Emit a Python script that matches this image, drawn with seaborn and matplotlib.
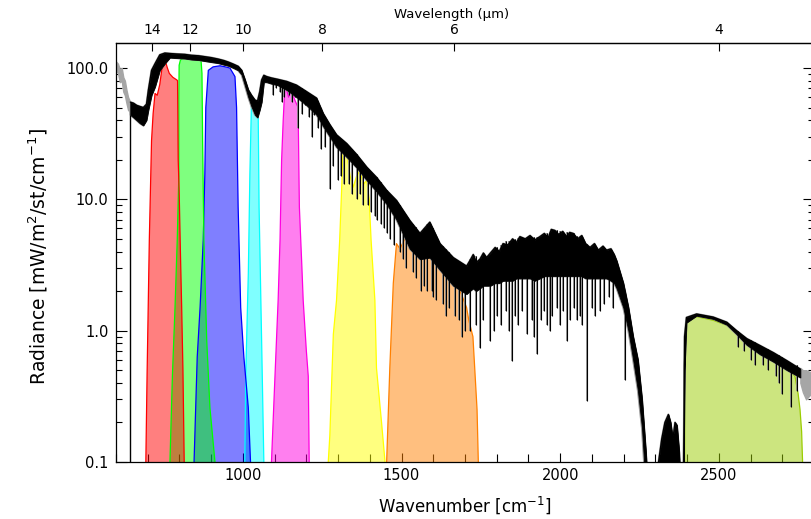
import matplotlib
matplotlib.use("Agg")
import matplotlib.pyplot as plt
import numpy as np
import seaborn as sns
from matplotlib.ticker import FixedLocator, MultipleLocator, NullLocator, LogLocator, NullFormatter

# black spectrum: wavenumber [cm-1], upper / lower envelope of the line forest
SPEC_WN = [645, 655, 665, 675, 686, 696, 702, 712, 723, 738,
           754, 770, 790, 817, 838, 860, 880, 900, 922, 940,
           954, 970, 985, 996, 1006, 1017, 1027, 1038, 1046, 1053,
           1059, 1066, 1075, 1090, 1110, 1138, 1169, 1201, 1232, 1253,
           1274, 1295, 1327, 1358, 1390, 1421, 1453, 1484, 1526, 1558,
           1589, 1621, 1663, 1705, 1715, 1726, 1735, 1747, 1758, 1768,
           1780, 1795, 1808, 1820, 1835, 1850, 1862, 1873, 1890, 1905,
           1920, 1936, 1950, 1962, 1972, 1983, 1995, 2008, 2020, 2030,
           2041, 2055, 2068, 2080, 2094, 2108, 2120, 2135, 2146, 2160,
           2170, 2178, 2199, 2215, 2230, 2245, 2258, 2270, 2282, 2300,
           2310, 2320, 2330, 2341, 2348, 2355, 2362, 2368, 2375, 2380,
           2388, 2392, 2398, 2430, 2482, 2525, 2556, 2588, 2630, 2672,
           2715, 2757]
SPEC_HI = [55, 54, 52, 51, 50, 53, 68, 96, 108, 126,
           130, 129, 128, 127, 125, 124, 122, 120, 117, 114,
           111, 107, 103, 96, 82, 68, 62, 57, 56, 66,
           81, 88, 86, 84, 82, 79, 74, 66, 59, 45,
           37, 31, 26.6, 22, 17.6, 14.7, 11.7, 9.8, 6.9, 5.5,
           6.7, 4.6, 3.6, 3.1, 3.4, 3.8, 3.3, 3.5, 3.9, 3.6,
           3.9, 4.3, 4.0, 4.6, 4.5, 5.0, 4.7, 5.2, 5.0, 5.3,
           4.9, 5.2, 5.5, 5.1, 5.9, 5.8, 5.4, 5.7, 5.2, 5.6,
           5.5, 5.0, 5.3, 4.6, 4.3, 4.6, 4.1, 4.4, 4.1, 4.2,
           3.8, 3.4, 2.3, 1.5, 0.9, 0.6, 0.3, 0.12, 0.04, 0.05,
           0.1, 0.15, 0.2, 0.23, 0.2, 0.15, 0.2, 0.19, 0.12, 0.06,
           0.04, 0.9, 1.26, 1.34, 1.27, 1.16, 1.0, 0.87, 0.77, 0.68,
           0.59, 0.51]
SPEC_LO = [44, 42, 40, 38, 36.5, 40, 48, 62, 72, 96,
           108, 120, 119, 118, 116, 115, 113, 111, 109, 106,
           104, 100, 96, 89, 74, 60, 51, 44, 42, 48,
           55, 78, 78, 76, 74, 68, 60, 52, 44, 36,
           30, 25, 21, 17.5, 14, 11.5, 9.2, 7.0, 4.2, 3.5,
           3.6, 2.9, 2.2, 1.9, 2.0, 2.1, 2.0, 2.1, 2.2, 2.2,
           2.2, 2.3, 2.3, 2.4, 2.4, 2.4, 2.5, 2.5, 2.5, 2.5,
           2.4, 2.5, 2.6, 2.6, 2.6, 2.6, 2.6, 2.6, 2.6, 2.6,
           2.6, 2.6, 2.6, 2.5, 2.5, 2.5, 2.5, 2.5, 2.5, 2.4,
           2.3, 2.1, 1.5, 1.0, 0.6, 0.35, 0.18, 0.06, 0.03, 0.03,
           0.03, 0.03, 0.03, 0.03, 0.03, 0.03, 0.03, 0.03, 0.03, 0.03,
           0.03, 0.5, 1.15, 1.3, 1.23, 1.11, 0.94, 0.78, 0.66, 0.58,
           0.5, 0.44]

# grey parts of the spectrum outside the 645-2760 cm-1 range
GREY_L_WN = [600, 606, 612, 618, 623, 628, 633, 638, 645]
GREY_L_HI = [112, 108, 98, 100, 85, 80, 68, 60, 55]
GREY_L_LO = [95, 92, 78, 80, 66, 62, 54, 48, 46]
GREY_R_WN = [2757, 2765, 2775, 2790, 2800]
GREY_R_HI = [0.52, 0.5, 0.5, 0.48, 0.47]
GREY_R_LO = [0.4, 0.34, 0.3, 0.33, 0.33]

# absorption lines hanging below the envelope
LINE_WN = [1095, 1105, 1118, 1124, 1130, 1145, 1155, 1163, 1173, 1185, 1195, 1208, 1217,
           1225, 1238, 1245, 1260, 1274, 1285, 1300, 1310, 1320, 1335, 1345, 1359, 1370,
           1380, 1395, 1405, 1415, 1422, 1435, 1445, 1454, 1465, 1475, 1495, 1505, 1515,
           1535, 1545, 1560, 1570, 1580, 1595, 1600, 1610, 1630, 1640, 1650, 1670, 1680,
           1690, 1700, 1715, 1735, 1747, 1758, 1779, 1790, 1800, 1812, 1830, 1838, 1847,
           1858, 1868, 1880, 1895, 1910, 1918, 1926, 1940, 1950, 1958, 1968, 1975, 1990,
           2000, 2010, 2021, 2030, 2045, 2053, 2062, 2070, 2084, 2100, 2110, 2125, 2138,
           2155, 2165, 2204, 2560, 2580, 2600, 2615, 2640, 2655, 2680, 2690, 2700, 2729,
           2745]
LINE_TOP = [83, 82, 81, 80, 80, 78, 76, 75, 73, 70, 68, 64, 62,
            60, 56, 50, 42, 37, 33, 30, 28, 27, 25, 24, 22, 20,
            19, 17, 16, 15, 14.7, 13.5, 12.5, 11.7, 11, 10, 9, 8, 7.5,
            6.5, 6.2, 5.5, 6, 6.5, 6.2, 6, 5, 4.4, 4.2, 4, 3.5, 3.4,
            3.3, 3.1, 3.5, 3.7, 3.5, 3.6, 3.7, 4, 4.3, 4.5, 4.8, 4.8, 4.8,
            5, 5.1, 5.2, 5.2, 5.2, 5.2, 5.2, 5.2, 5.4, 5.5, 5.6, 5.8, 5.8,
            5.7, 5.6, 5.6, 5.5, 5.5, 5.3, 5.0, 4.8, 4.6, 4.3, 4.2, 4.2, 4.1,
            4.0, 3.8, 2.0, 1.0, 0.9, 0.85, 0.82, 0.75, 0.72, 0.66, 0.65, 0.63, 0.57,
            0.55]
LINE_BOT = [62, 70, 66, 55, 60, 62, 55, 60, 35, 45, 52, 42, 30,
            44, 35, 24, 25, 12, 18, 14, 15, 13, 13, 11, 10, 11,
            9, 9, 8, 7.5, 7, 6.5, 6, 5.5, 5, 4.5, 4, 3.5, 3.0,
            2.8, 2.5, 2.0, 2.2, 2.0, 2.0, 1.8, 1.7, 1.6, 1.3, 1.5, 1.3, 1.2,
            0.9, 1.0, 1.0, 1.1, 0.74, 1.2, 0.84, 1.0, 1.3, 1.1, 1.4, 1.0, 0.59,
            1.3, 1.1, 1.4, 0.95, 1.2, 0.9, 0.67, 1.2, 1.4, 1.1, 1.0, 1.3, 1.5,
            1.1, 1.4, 0.84, 1.2, 1.5, 1.2, 1.3, 1.1, 0.29, 1.5, 1.3, 1.4, 1.6,
            1.8, 1.5, 0.42, 0.75, 0.7, 0.6, 0.55, 0.55, 0.5, 0.45, 0.4, 0.33, 0.26,
            0.35]

# channel bands (outline going left edge -> top -> right edge)
YG_WN = [2392, 2393, 2396, 2400, 2430, 2482, 2525, 2556, 2588, 2630, 2672, 2715, 2740,
         2750, 2756, 2761, 2764]
YG_RAD = [0.1, 0.8, 1.1, 1.2, 1.28, 1.2, 1.1, 0.95, 0.8, 0.7, 0.62, 0.52, 0.45,
          0.33, 0.25, 0.17, 0.1]
ORANGE_WN = [1453, 1463, 1474, 1484, 1495, 1510, 1526, 1545, 1560, 1575, 1589, 1600, 1621,
             1640, 1663, 1685, 1705, 1712, 1725, 1731, 1738, 1742]
ORANGE_RAD = [0.1, 0.52, 2.3, 4.6, 4.2, 5.0, 4.9, 5.3, 4.5, 5.8, 6.3, 4.5, 3.4,
              2.8, 2.5, 2.0, 1.5, 1.2, 0.9, 0.5, 0.25, 0.1]
YELLOW_WN = [1269, 1274, 1285, 1295, 1305, 1311, 1316, 1327, 1338, 1348, 1358, 1369, 1380,
             1390, 1398, 1404, 1416, 1421, 1437, 1448]
YELLOW_RAD = [0.1, 0.16, 0.94, 1.7, 4.9, 11.7, 26, 23, 15, 12.4, 15, 16.6, 13,
              14, 10, 4.9, 1.7, 0.52, 0.2, 0.1]
MAGENTA_WN = [1090, 1100, 1111, 1117, 1122, 1127, 1132, 1138, 1144, 1150, 1158, 1165, 1174,
              1178, 1186, 1190, 1200, 1206, 1209]
MAGENTA_RAD = [0.1, 0.39, 1.7, 4.9, 20, 40, 70, 68, 60, 66, 62, 56, 50,
               8.7, 3.0, 1.7, 0.7, 0.45, 0.1]
CYAN_WN = [1006, 1009, 1017, 1022, 1027, 1032, 1038, 1044, 1048, 1051, 1059, 1066]
CYAN_RAD = [0.1, 0.47, 2.7, 15.8, 55, 58, 52, 45, 50, 8.7, 0.84, 0.1]
BLUE_WN = [846, 856, 865, 875, 880, 883, 891, 906, 928, 945, 959, 975, 980, 985, 993, 1003,
           1017, 1024]
BLUE_RAD = [0.1, 0.63, 1.5, 4.9, 15.7, 50, 96, 102, 104, 102, 100, 86, 50, 8.7, 1.5, 0.63,
            0.26, 0.1]
GREEN_WN = [770, 778, 786, 793, 798, 798, 799, 803, 810, 825, 840, 855, 868, 871, 873, 877,
            886, 896, 912]
GREEN_RAD = [0.1, 0.47, 1.5, 4.9, 15, 60, 105, 115, 118, 122, 120, 118, 115, 91, 28, 4.9,
             0.84, 0.26, 0.1]
RED_WN = [694, 698, 705, 712, 717, 723, 730, 738, 745, 752, 756, 762, 768, 779, 792, 794,
          795, 796, 799, 803, 807, 811, 815]
RED_RAD = [0.1, 0.47, 4.9, 28, 45, 64, 62, 75, 100, 114, 112, 100, 91, 85, 81, 80,
           40, 20, 11.7, 4.0, 1.5, 0.5, 0.1]

BANDS = [
    (YG_WN, YG_RAD, "#9acd00"),
    (ORANGE_WN, ORANGE_RAD, "#ff8000"),
    (YELLOW_WN, YELLOW_RAD, "#ffff00"),
    (MAGENTA_WN, MAGENTA_RAD, "#ff00e0"),
    (CYAN_WN, CYAN_RAD, "#00ffff"),
    (BLUE_WN, BLUE_RAD, "#0000ff"),
    (GREEN_WN, GREEN_RAD, "#00ff00"),
    (RED_WN, RED_RAD, "#ff0000"),
]

WL_TICKS = [14, 12, 10, 8, 6, 4]


def wn_to_wl(x):
    x = np.asarray(x, dtype=float)
    with np.errstate(divide="ignore", invalid="ignore"):
        return 1e4 / x


def main() -> None:
    sns.set_theme(style="ticks", rc={"text.color": "black", "axes.labelcolor": "black",
                                     "xtick.color": "black", "ytick.color": "black"})
    plt.rcParams["font.family"] = ["DejaVu Sans"]
    plt.rcParams["axes.linewidth"] = 0.9

    fig = plt.figure(figsize=(8.11, 5.19), dpi=100)
    ax = fig.add_axes([116 / 811, 57 / 519, 698 / 811, 419 / 519])
    ax.set_yscale("log")

    for wn, rad, color in BANDS:
        ax.fill(wn, rad, facecolor=color, alpha=0.5, lw=0, zorder=1)
        ax.plot(wn, rad, color=color, lw=0.9, zorder=1.5)

    # grey halo and the grey out-of-range pieces
    ax.fill_between(SPEC_WN, SPEC_LO, SPEC_HI, facecolor="none", edgecolor="0.6", lw=1.5,
                    zorder=2)
    ax.fill_between(GREY_L_WN, GREY_L_LO, GREY_L_HI, color="0.65", lw=1.0, zorder=2)
    ax.fill_between(GREY_R_WN, GREY_R_LO, GREY_R_HI, color="0.65", lw=1.0, zorder=2)
    ax.vlines(LINE_WN, LINE_BOT, LINE_TOP, color="0.55", lw=1.3, zorder=2)

    ax.fill_between(SPEC_WN, SPEC_LO, SPEC_HI, color="black", lw=0.6, zorder=3)
    sns.lineplot(x=SPEC_WN, y=SPEC_HI, color="black", lw=0.9, ax=ax,
                 sort=False, estimator=None, zorder=3)
    ax.vlines(LINE_WN, LINE_BOT, LINE_TOP, color="black", lw=0.8, zorder=3)
    ax.vlines(SPEC_WN[0], 0.1, SPEC_LO[0], color="black", lw=1.0, zorder=3)

    ax.set_xlim(600, 2800)
    ax.set_ylim(0.1, 155)

    ax.xaxis.set_major_locator(FixedLocator([1000, 1500, 2000, 2500]))
    ax.xaxis.set_minor_locator(MultipleLocator(100))
    ax.yaxis.set_major_locator(FixedLocator([0.1, 1, 10, 100]))
    ax.set_yticklabels(["0.1", "1.0", "10.0", "100.0"])
    ax.yaxis.set_minor_locator(LogLocator(base=10, subs=np.arange(2, 10)))
    ax.yaxis.set_minor_formatter(NullFormatter())

    ax.tick_params(axis="x", which="major", direction="in", length=6.5, width=0.8,
                   top=False, bottom=True, labelsize=10.5, pad=4.5)
    ax.tick_params(axis="x", which="minor", direction="in", length=5.5, width=0.8,
                   top=False, bottom=True)
    ax.tick_params(axis="y", which="major", direction="in", length=8, width=0.8,
                   left=True, right=True, labelsize=10.5, pad=5.5)
    ax.tick_params(axis="y", which="minor", direction="in", length=4.5, width=0.8,
                   left=True, right=True)

    secax = ax.secondary_xaxis("top", functions=(wn_to_wl, wn_to_wl))
    secax.xaxis.set_major_locator(FixedLocator(WL_TICKS))
    secax.xaxis.set_minor_locator(NullLocator())
    secax.tick_params(direction="in", length=6, width=0.8, labelsize=10, pad=4.5)
    ax.text(0.481, 1.067, "Wavelength (µm)", transform=ax.transAxes, fontsize=9.5,
            ha="center", va="center")

    ax.set_xlabel("Wavenumber [cm$^{-1}$]", fontsize=12)
    ax.set_ylabel("Radiance [mW/m$^2$/st/cm$^{-1}$]", fontsize=13.5)
    ax.xaxis.set_label_coords(0.5, -0.077)
    ax.yaxis.set_label_coords(-0.094, 0.49)
    for side in ["left", "right", "top", "bottom"]:
        ax.spines[side].set_color("black")

    fig.savefig("out.png", dpi=100, facecolor="white")
    plt.close(fig)


if __name__ == "__main__":
    main()
